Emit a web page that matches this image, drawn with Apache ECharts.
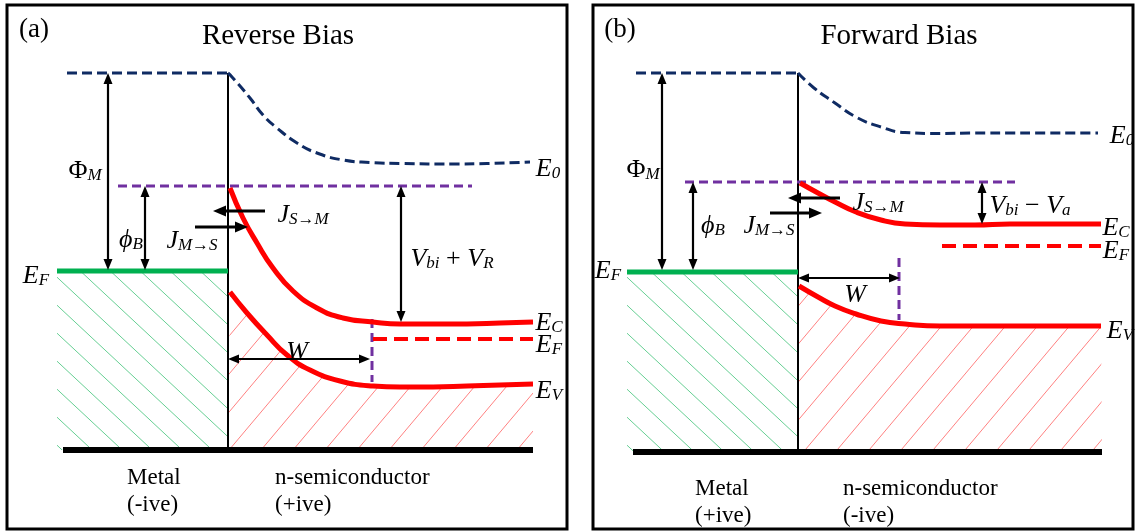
<!DOCTYPE html>
<html>
<head>
<meta charset="utf-8">
<script src="https://cdn.jsdelivr.net/npm/echarts@6/dist/echarts.min.js"></script>
<style>
  html, body { margin: 0; padding: 0; background: #fff; }
  #chart { width: 1139px; height: 531px; }
</style>
</head>
<body>
<div id="chart"></div>
<script>
// Metal / n-semiconductor Schottky contact band diagrams.
// Each panel: x = position measured from the interface, E = energy measured from the metal Fermi level.

// ---------- (a) Reverse bias ----------
const a_vacuumMetal = [[-161, 198], [0, 198]];
const a_vacuumSemi = [[0, 198], [4, 194], [22, 173], [35, 156], [49, 143], [69, 128], [89, 118], [115, 111], [142, 108.5], [175, 107.5], [225, 107], [259, 107.5], [302, 109]];
const a_barrierTop = [[-110, 85], [244, 85]];
const a_fermiMetal = [[-171, 0], [0, 0]];
const a_conduction = [[2, 83], [15, 53], [29, 28], [45, 3], [65, -20], [89, -37], [115, -47], [145, -51], [172, -53], [205, -53], [239, -53], [272, -52], [305, -51]];
const a_valence = [[2, -21], [19, -42], [39, -64], [59, -84], [82, -99], [112, -110], [145, -115], [172, -116], [205, -116], [239, -115], [305, -113]];
const a_fermiSemi = [[145, -68], [305, -68]];
const a_depletionEdge = [[144, -48], [144, -111]];
const a_interface = [[0, 198], [0, -179]];
const a_base = [[-165, -179], [305, -179]];
const a_metalBody = [[-171, -1], [0, -1], [0, -179], [-171, -179]];
// [start, end, double-headed]
const a_arrows = [
  [[-120, 198], [-120, 1], true],
  [[-83, 85], [-83, 1], true],
  [[37, 60], [-15, 60], false],
  [[-33, 44], [20, 44], false],
  [[0, -88], [142, -88], true],
  [[173, 85], [173, -51], true]
];
const a_symbols = [
  [-143, 103, '{u|Φ}{s|M}'],
  [-97, 34, '{m|ϕ}{s|B}'],
  [75, 59, '{m|J}{s|S→M}'],
  [-36, 33, '{m|J}{s|M→S}'],
  [224, 15, '{m|V}{s|bi}{u| + }{m|V}{s|R}'],
  [69, -78, '{m|W}'],
  [-192, -2, '{m|E}{s|F}'],
  [320, 105, '{m|E}{s|0}'],
  [321, -49, '{m|E}{s|C}'],
  [321, -71, '{m|E}{s|F}'],
  [321, -117, '{m|E}{s|V}']
];
const a_captions = [
  [-194, 241, '(a)', 'center', 27],
  [50, 235, 'Reverse Bias', 'center', 29],
  [-101, -207, 'Metal', 'left', 23],
  [-101, -234, '(-ive)', 'left', 23],
  [47, -207, 'n-semiconductor', 'left', 23],
  [47, -234, '(+ive)', 'left', 23]
];

// ---------- (b) Forward bias ----------
const b_vacuumMetal = [[-162, 199], [0, 199]];
const b_vacuumSemi = [[0, 199], [16, 184], [37, 169], [58, 155], [83, 145], [107, 139.5], [142, 138.5], [177, 139], [212, 139], [247, 139], [300, 139]];
const b_barrierTop = [[-113, 90], [217, 90]];
const b_fermiMetal = [[-171, 0], [0, 0]];
const b_conduction = [[2, 89], [20, 79], [37, 70], [58, 60], [83, 52], [107, 48], [142, 47], [177, 47], [212, 48], [303, 48]];
const b_valence = [[1, -14], [20, -25], [37, -34], [58, -42], [83, -49], [107, -52], [142, -54], [177, -54], [212, -54], [303, -54]];
const b_fermiSemi = [[144, 26], [303, 26]];
const b_depletionEdge = [[101, 14], [101, -48]];
const b_interface = [[0, 199], [0, -180]];
const b_base = [[-165, -180], [304, -180]];
const b_metalBody = [[-171, 0], [0, 0], [0, -180], [-171, -180]];
const b_arrows = [
  [[-136, 199], [-136, 2], true],
  [[-105, 90], [-105, 2], true],
  [[42, 74], [-10, 74], false],
  [[-28, 59], [24, 59], false],
  [[0, -6], [102, -6], true],
  [[184, 90], [184, 48], true]
];
const b_symbols = [
  [-155, 105, '{u|Φ}{s|M}'],
  [-85, 49, '{m|ϕ}{s|B}'],
  [80, 72, '{m|J}{s|S→M}'],
  [-29, 49, '{m|J}{s|M→S}'],
  [232, 69, '{m|V}{s|bi}{u| − }{m|V}{s|a}'],
  [57, -20, '{m|W}'],
  [-190, 4, '{m|E}{s|F}'],
  [324, 139, '{m|E}{s|0}'],
  [318, 47, '{m|E}{s|C}'],
  [318, 24, '{m|E}{s|F}'],
  [322, -56, '{m|E}{s|V}']
];
const b_captions = [
  [-178, 242, '(b)', 'center', 27],
  [101, 236, 'Forward Bias', 'center', 29],
  [-103, -217, 'Metal', 'left', 23],
  [-103, -244, '(+ive)', 'left', 23],
  [45, -217, 'n-semiconductor', 'left', 23],
  [45, -244, '(-ive)', 'left', 23]
];

// ---------- drawing ----------
const SERIF = "'Liberation Serif', 'Times New Roman', serif";
const NAVY = '#0f2b63';
const PURPLE = '#7030a0';
const RED = '#ff0000';
const GREEN = '#00b050';

// Repeating diagonal hatch tile; rising = '/' lines, otherwise '\'
function hatchTile(color, w, h, rising) {
  const c = document.createElement('canvas');
  c.width = w; c.height = h;
  const ctx = c.getContext('2d');
  ctx.strokeStyle = color;
  ctx.lineWidth = 1;
  for (const off of [-w, 0, w]) {
    ctx.beginPath();
    if (rising) { ctx.moveTo(off - w, 2 * h); ctx.lineTo(off + 2 * w, -h); }
    else { ctx.moveTo(off - w, -h); ctx.lineTo(off + 2 * w, 2 * h); }
    ctx.stroke();
  }
  return { image: c, repeat: 'repeat' };
}
const greenHatch = hatchTile('#66cf93', 30, 28, false);
const redHatch = hatchTile('#ff8080', 32, 38, true);

const richStyles = {
  m: { fontFamily: SERIF, fontStyle: 'italic', fontSize: 26, lineHeight: 32, verticalAlign: 'bottom', fill: '#000' },
  u: { fontFamily: SERIF, fontSize: 26, lineHeight: 32, verticalAlign: 'bottom', fill: '#000' },
  s: { fontFamily: SERIF, fontStyle: 'italic', fontSize: 17, lineHeight: 10, verticalAlign: 'bottom', fill: '#000' }
};

function curve(i, data, color, width, dash, smooth) {
  return {
    type: 'line', xAxisIndex: i, yAxisIndex: i, data: data, symbol: 'none',
    smooth: smooth || false, z: 3, silent: true,
    lineStyle: { color: color, width: width, type: dash || 'solid' }
  };
}

function area(i, poly, fill) {
  return {
    type: 'custom', xAxisIndex: i, yAxisIndex: i, z: 1, silent: true,
    data: [poly[0]],
    renderItem: function (params, api) {
      return { type: 'polygon', shape: { points: poly.map(function (p) { return api.coord(p); }) }, style: { fill: fill } };
    }
  };
}

// Double-headed arrows mark energy gaps and widths; single-headed ones are the current fluxes (drawn heavier).
function arrows(i, list) {
  return {
    type: 'custom', xAxisIndex: i, yAxisIndex: i, z: 6, silent: true,
    data: list.map(function (a) { return a[0]; }),
    renderItem: function (params, api) {
      const a = list[params.dataIndex];
      const p = api.coord(a[0]), q = api.coord(a[1]);
      const dx = q[0] - p[0], dy = q[1] - p[1], len = Math.hypot(dx, dy);
      const ux = dx / len, uy = dy / len;
      const heavy = !a[2];
      const L = heavy ? 13 : 11, W = heavy ? 5.5 : 4.5;
      const head = function (t, vx, vy) {
        return {
          type: 'polygon',
          shape: { points: [[t[0], t[1]], [t[0] - vx * L - vy * W, t[1] - vy * L + vx * W], [t[0] - vx * L + vy * W, t[1] - vy * L - vx * W]] },
          style: { fill: '#000' }
        };
      };
      const s = a[2] ? [p[0] + ux * L * 0.8, p[1] + uy * L * 0.8] : p;
      const e = [q[0] - ux * L * 0.8, q[1] - uy * L * 0.8];
      const children = [
        { type: 'line', shape: { x1: s[0], y1: s[1], x2: e[0], y2: e[1] }, style: { stroke: '#000', lineWidth: heavy ? 3 : 2.2 } },
        head(q, ux, uy)
      ];
      if (a[2]) children.push(head(p, -ux, -uy));
      return { type: 'group', children: children };
    }
  };
}

function symbols(i, list) {
  return {
    type: 'custom', xAxisIndex: i, yAxisIndex: i, z: 8, silent: true,
    data: list.map(function (l) { return [l[0], l[1]]; }),
    renderItem: function (params, api) {
      const l = list[params.dataIndex];
      const p = api.coord([l[0], l[1]]);
      return {
        type: 'text', x: p[0], y: p[1],
        style: { text: l[2], rich: richStyles, align: 'center', verticalAlign: 'middle', fill: '#000' }
      };
    }
  };
}

function captions(i, list) {
  return {
    type: 'custom', xAxisIndex: i, yAxisIndex: i, z: 8, silent: true,
    data: list.map(function (l) { return [l[0], l[1]]; }),
    renderItem: function (params, api) {
      const l = list[params.dataIndex];
      const p = api.coord([l[0], l[1]]);
      return {
        type: 'text', x: p[0], y: p[1],
        style: { text: l[2], align: l[3], verticalAlign: 'middle', fill: '#000', fontFamily: SERIF, fontSize: l[4] }
      };
    }
  };
}

function panel(i, d) {
  return [
    area(i, d.metalBody, greenHatch),
    area(i, d.valence.concat([[d.base[1][0], d.base[1][1]], [0, d.base[1][1]]]), redHatch),
    curve(i, d.interface, '#000', 2),
    curve(i, d.base, '#000', 6),
    curve(i, d.vacuumMetal, NAVY, 3, [10, 5]),
    curve(i, d.vacuumSemi, NAVY, 3, [10, 5], 0.5),
    curve(i, d.barrierTop, PURPLE, 3, [9, 5]),
    curve(i, d.depletionEdge, PURPLE, 3, [9, 5]),
    curve(i, d.fermiMetal, GREEN, 5),
    curve(i, d.fermiSemi, RED, 4, [14, 7]),
    curve(i, d.conduction, RED, 5, null, 0.5),
    curve(i, d.valence, RED, 5, null, 0.5),
    arrows(i, d.arrows),
    symbols(i, d.symbols),
    captions(i, d.captions)
  ];
}

const panelA = {
  vacuumMetal: a_vacuumMetal, vacuumSemi: a_vacuumSemi, barrierTop: a_barrierTop, fermiMetal: a_fermiMetal,
  conduction: a_conduction, valence: a_valence, fermiSemi: a_fermiSemi, depletionEdge: a_depletionEdge,
  interface: a_interface, base: a_base, metalBody: a_metalBody, arrows: a_arrows, symbols: a_symbols, captions: a_captions
};
const panelB = {
  vacuumMetal: b_vacuumMetal, vacuumSemi: b_vacuumSemi, barrierTop: b_barrierTop, fermiMetal: b_fermiMetal,
  conduction: b_conduction, valence: b_valence, fermiSemi: b_fermiSemi, depletionEdge: b_depletionEdge,
  interface: b_interface, base: b_base, metalBody: b_metalBody, arrows: b_arrows, symbols: b_symbols, captions: b_captions
};

const chart = echarts.init(document.getElementById('chart'), null, { renderer: 'canvas' });
chart.setOption({
  animation: false,
  backgroundColor: '#fff',
  grid: [
    { left: 7, top: 5, width: 560, height: 524, show: true, borderColor: '#000', borderWidth: 3, backgroundColor: '#fff' },
    { left: 593, top: 5, width: 540, height: 524, show: true, borderColor: '#000', borderWidth: 3, backgroundColor: '#fff' }
  ],
  xAxis: [
    { gridIndex: 0, type: 'value', min: -221, max: 339, show: false },
    { gridIndex: 1, type: 'value', min: -205, max: 335, show: false }
  ],
  yAxis: [
    { gridIndex: 0, type: 'value', min: -258, max: 266, show: false },
    { gridIndex: 1, type: 'value', min: -257, max: 267, show: false }
  ],
  series: panel(0, panelA).concat(panel(1, panelB))
});
</script>
</body>
</html>
